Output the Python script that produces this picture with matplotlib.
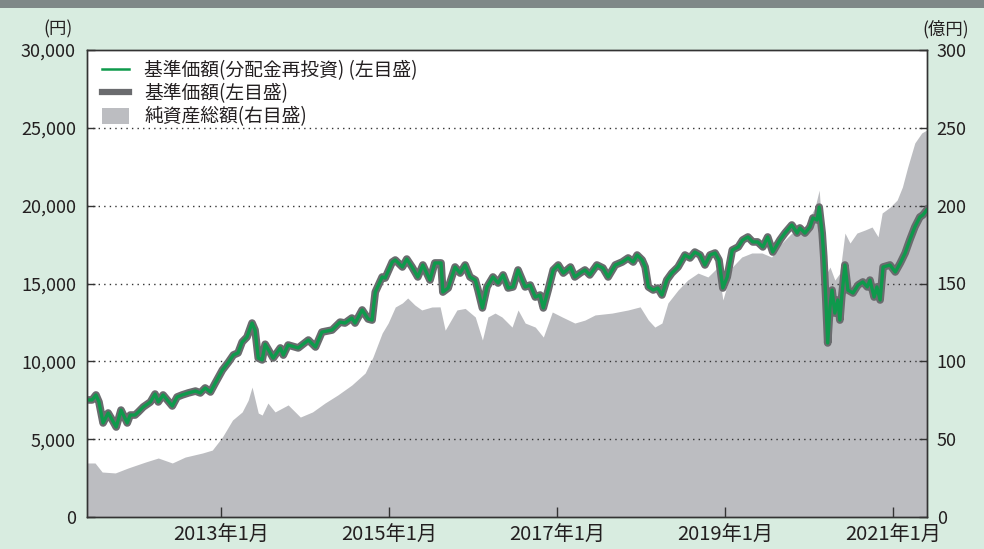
import pandas as pd
import matplotlib
matplotlib.use("Agg")
import matplotlib.pyplot as plt
from matplotlib.patches import Rectangle, Patch
from matplotlib.lines import Line2D
from matplotlib.ticker import FuncFormatter

plt.rcParams['font.family'] = ['Noto Sans CJK JP', 'DejaVu Sans']

# 基準価額 (円)
nav_dates = [
    "2011-05-28", "2011-06-18", "2011-07-05", "2011-07-18", "2011-08-05", "2011-08-27",
    "2011-09-14", "2011-10-01", "2011-10-22", "2011-11-18", "2011-12-01", "2011-12-22",
    "2012-01-05", "2012-01-27", "2012-02-27", "2012-03-18", "2012-04-01", "2012-04-22",
    "2012-05-10", "2012-06-01", "2012-06-22", "2012-07-14", "2012-08-10", "2012-09-10",
    "2012-10-01", "2012-10-22", "2012-11-14", "2012-12-05", "2013-01-05", "2013-02-01",
    "2013-02-22", "2013-03-14", "2013-04-01", "2013-04-22", "2013-05-14", "2013-05-27",
    "2013-06-10", "2013-06-27", "2013-07-10", "2013-08-14", "2013-09-14", "2013-09-27",
    "2013-10-18", "2013-12-01", "2014-01-14", "2014-02-14", "2014-03-14", "2014-04-27",
    "2014-06-01", "2014-06-22", "2014-07-22", "2014-08-05", "2014-09-05", "2014-10-01",
    "2014-10-18", "2014-11-01", "2014-12-01", "2014-12-14", "2015-01-14", "2015-01-27",
    "2015-02-27", "2015-03-18", "2015-04-10", "2015-05-05", "2015-05-27", "2015-06-27",
    "2015-07-18", "2015-08-14", "2015-08-22", "2015-09-14", "2015-10-14", "2015-11-05",
    "2015-11-27", "2015-12-18", "2016-01-10", "2016-01-22", "2016-02-10", "2016-03-01",
    "2016-03-27", "2016-04-18", "2016-05-10", "2016-06-01", "2016-06-22", "2016-07-14",
    "2016-08-14", "2016-09-05", "2016-09-27", "2016-10-18", "2016-11-01", "2016-11-22",
    "2016-12-14", "2017-01-05", "2017-01-27", "2017-02-27", "2017-03-18", "2017-04-10",
    "2017-05-01", "2017-05-22", "2017-06-22", "2017-07-18", "2017-08-10", "2017-09-10",
    "2017-10-10", "2017-11-05", "2017-11-27", "2017-12-14", "2018-01-05", "2018-01-18",
    "2018-02-01", "2018-02-22", "2018-03-14", "2018-04-01", "2018-04-22", "2018-05-14",
    "2018-06-10", "2018-07-10", "2018-08-01", "2018-08-22", "2018-09-14", "2018-10-05",
    "2018-10-27", "2018-11-18", "2018-12-05", "2018-12-22", "2019-01-10", "2019-02-01",
    "2019-02-27", "2019-03-18", "2019-04-10", "2019-05-01", "2019-05-22", "2019-06-14",
    "2019-07-05", "2019-07-27", "2019-08-27", "2019-09-18", "2019-10-18", "2019-11-10",
    "2019-11-22", "2019-12-14", "2020-01-05", "2020-01-18", "2020-02-05", "2020-02-14",
    "2020-02-27", "2020-03-05", "2020-03-14", "2020-03-22", "2020-04-01", "2020-04-10",
    "2020-04-22", "2020-05-05", "2020-05-14", "2020-05-22", "2020-06-05", "2020-06-18",
    "2020-07-10", "2020-08-01", "2020-08-22", "2020-09-10", "2020-09-22", "2020-10-10",
    "2020-10-22", "2020-11-05", "2020-11-18", "2020-12-18", "2021-01-10", "2021-02-01",
    "2021-02-22", "2021-03-14", "2021-04-05", "2021-04-27", "2021-05-10", "2021-05-27",
]
nav = [
    7520, 7520, 7840, 7390, 6040, 6680,
    6230, 5780, 6870, 6040, 6550, 6550,
    6740, 7070, 7390, 7900, 7390, 7840,
    7520, 7130, 7710, 7840, 7970, 8090,
    7970, 8290, 8030, 8610, 9440, 9960,
    10410, 10540, 11240, 11560, 12460, 12010,
    10210, 10090, 11100, 10210, 10860, 10400,
    11050, 10860, 11370, 10920, 11880, 12010,
    12520, 12460, 12780, 12460, 13300, 12720,
    12650, 14450, 15420, 15350, 16380, 16510,
    16060, 16570, 16060, 15420, 16190, 15220,
    16320, 16320, 14450, 14710, 16060, 15670,
    16190, 15420, 15220, 14580, 13430, 14780,
    15420, 15030, 15550, 14710, 14780, 15870,
    14780, 14900, 14130, 14260, 13430, 14580,
    15870, 16190, 15670, 16060, 15420, 15670,
    15870, 15550, 16190, 16000, 15420, 16190,
    16380, 16640, 16380, 16830, 16510, 16060,
    14780, 14580, 14710, 14260, 15220, 15670,
    16060, 16830, 16640, 17020, 16830, 16190,
    16830, 16960, 16510, 14710, 15420, 17150,
    17350, 17790, 17990, 17670, 17670, 17350,
    17990, 17020, 17790, 18240, 18760, 18240,
    18570, 18240, 18630, 19210, 19080, 19910,
    18240, 16700, 13940, 11180, 13490, 14580,
    13100, 13940, 12650, 14130, 16190, 14580,
    14390, 14900, 15100, 14780, 15220, 14130,
    14780, 13940, 16060, 16190, 15740, 16320,
    16960, 17790, 18630, 19270, 19400, 19720,
]
# 分配金再投資基準価額 (分配実績なしのため基準価額と同じ)
nav_reinvest = list(nav)

# 純資産総額 (億円)
asset_dates = [
    "2011-05-28", "2011-07-01", "2011-08-01", "2011-09-27", "2011-11-22", "2012-02-05",
    "2012-04-01", "2012-06-01", "2012-07-27", "2012-10-10", "2012-11-22", "2013-01-05",
    "2013-02-18", "2013-04-01", "2013-04-27", "2013-05-14", "2013-06-10", "2013-06-27",
    "2013-07-22", "2013-08-22", "2013-10-18", "2013-12-10", "2014-02-01", "2014-03-27",
    "2014-05-22", "2014-07-22", "2014-09-18", "2014-10-22", "2014-12-01", "2014-12-27",
    "2015-01-27", "2015-02-27", "2015-03-22", "2015-04-22", "2015-05-22", "2015-07-05",
    "2015-08-10", "2015-09-01", "2015-10-22", "2015-11-27", "2016-01-10", "2016-02-10",
    "2016-03-05", "2016-04-05", "2016-05-05", "2016-06-18", "2016-07-14", "2016-08-14",
    "2016-09-27", "2016-11-01", "2016-12-10", "2017-01-22", "2017-03-18", "2017-05-01",
    "2017-06-14", "2017-08-27", "2017-11-05", "2017-12-27", "2018-02-01", "2018-03-01",
    "2018-04-01", "2018-04-27", "2018-06-10", "2018-07-22", "2018-09-05", "2018-10-18",
    "2018-12-01", "2018-12-22", "2019-02-01", "2019-03-14", "2019-04-27", "2019-06-10",
    "2019-07-22", "2019-08-18", "2019-10-18", "2019-12-14", "2020-01-27", "2020-02-14",
    "2020-03-01", "2020-03-18", "2020-04-01", "2020-04-22", "2020-05-14", "2020-06-05",
    "2020-06-27", "2020-07-27", "2020-09-01", "2020-10-01", "2020-10-27", "2020-11-14",
    "2020-12-18", "2021-01-18", "2021-02-10", "2021-03-05", "2021-04-05", "2021-05-05",
    "2021-05-27",
]
assets = [
    34.7, 34.7, 28.9, 28.3, 31.5, 35.3,
    37.9, 34.7, 38.5, 41.1, 43.0, 51.4,
    62.3, 67.5, 75.0, 83.5, 66.8, 65.5,
    73.2, 67.5, 72.0, 64.2, 67.5, 73.2,
    78.4, 84.8, 92.5, 102.8, 118.2, 124.6,
    134.9, 137.5, 140.7, 136.2, 133.0, 134.9,
    135.0, 120.0, 133.0, 134.0, 128.5, 113.7,
    128.5, 131.0, 128.5, 122.0, 133.0, 124.6,
    122.0, 115.6, 131.7, 128.5, 124.6, 126.5,
    129.8, 131.0, 133.0, 135.0, 126.5, 122.0,
    124.6, 137.5, 145.8, 152.2, 156.7, 154.2,
    160.6, 139.4, 160.6, 167.0, 169.6, 169.6,
    167.0, 173.4, 182.4, 186.3, 199.0, 210.0,
    178.0, 156.7, 160.6, 152.2, 156.7, 182.4,
    176.0, 182.4, 184.4, 186.3, 180.0, 195.3,
    199.0, 203.6, 212.0, 224.8, 240.3, 246.7,
    248.6,
]

x_ticks = ["2013-01-01", "2015-01-01", "2017-01-01", "2019-01-01", "2021-01-01"]
x_tick_labels = ["2013年1月", "2015年1月", "2017年1月", "2019年1月", "2021年1月"]

bg = "#d8ece0"
txt = "#231f20"
fig = plt.figure(figsize=(9.84, 5.49), dpi=100, facecolor=bg)
fig.patches.append(Rectangle((0, 1 - 8 / 549), 1, 8 / 549, transform=fig.transFigure,
                             facecolor="#7f8888", edgecolor="none", zorder=0))

ax2 = fig.add_axes([87 / 984, 1 - 517 / 549, 840 / 984, 467 / 549])
ax = ax2.twinx()
ax.yaxis.tick_left()
ax2.yaxis.tick_right()
ax.set_zorder(ax2.get_zorder() + 1)
ax.patch.set_visible(False)
ax2.set_facecolor("white")

nd = pd.to_datetime(nav_dates)
ad = pd.to_datetime(asset_dates)

ax2.fill_between(ad, 0, assets, color="#bcbdc1", linewidth=0)
ax.plot(nd, nav, color="#6a6b6e", linewidth=5.5, solid_joinstyle="round")
ax.plot(nd, nav_reinvest, color="#0e9a4c", linewidth=2.4, solid_joinstyle="round")

ax.set_ylim(0, 30000)
ax2.set_ylim(0, 300)
ax2.set_xlim(pd.Timestamp("2011-05-27"), pd.Timestamp("2021-05-28"))

ax.set_yticks(range(0, 30001, 5000))
ax.yaxis.set_major_formatter(FuncFormatter(lambda v, p: f"{int(v):,}"))
ax2.set_yticks(range(0, 301, 50))
ax2.set_xticks(pd.to_datetime(x_ticks))
ax2.set_xticklabels(x_tick_labels)

for a in (ax, ax2):
    for s in a.spines.values():
        s.set_color("#333333")
        s.set_linewidth(1.0)
ax.tick_params(axis="y", direction="in", length=6, width=1, color="#333333",
               labelsize=13, labelcolor=txt, pad=8)
ax2.tick_params(axis="y", direction="in", length=6, width=1, color="#333333",
                labelsize=13, labelcolor=txt, pad=7)
ax2.tick_params(axis="x", direction="in", length=7, width=1, color="#333333",
                labelsize=14.5, labelcolor=txt, pad=6)

for v in range(5000, 30000, 5000):
    ax.axhline(v, color="#333333", linewidth=1.0, linestyle=(0, (1, 3)), zorder=1)

fig.text(58 / 984, 1 - 29 / 549, "(円)", ha="center", va="center", fontsize=12.5, color=txt)
fig.text(946 / 984, 1 - 29 / 549, "(億円)", ha="center", va="center", fontsize=12.5, color=txt)

handles = [
    Line2D([0], [0], color="#0e9a4c", linewidth=1.8),
    Line2D([0], [0], color="#6a6b6e", linewidth=4.5),
    Patch(facecolor="#bcbdc1", edgecolor="none"),
]
labels = ["基準価額(分配金再投資) (左目盛)", "基準価額(左目盛)", "純資産総額(右目盛)"]
leg = ax.legend(handles, labels, loc="upper left", bbox_to_anchor=(0.009, 0.995),
                frameon=False, fontsize=13.5, handlelength=1.45, handleheight=0.9,
                handletextpad=0.8, labelspacing=0.12, borderaxespad=0)
for t in leg.get_texts():
    t.set_color(txt)

fig.savefig("out.png", dpi=100, facecolor=bg)
